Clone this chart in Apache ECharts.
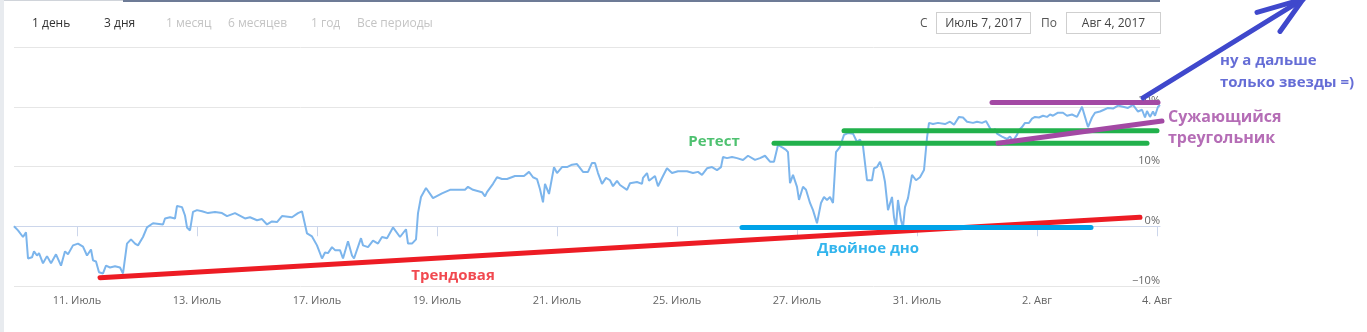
<!DOCTYPE html>
<html>
<head>
<meta charset="utf-8">
<script src="https://cdn.jsdelivr.net/npm/echarts@6/dist/echarts.min.js"></script>
<style>
  body { margin: 0; background: #fff; font-family: "Open Sans", "Noto Sans", sans-serif; }
  #wrap { position: relative; width: 1367px; height: 332px; overflow: hidden; }
  #main { position: absolute; left: 0; top: 0; width: 1367px; height: 332px; }
  .strip { position: absolute; left: 0; top: 0; width: 4px; height: 332px; background: #e8ebef; }
  .topline1 { position: absolute; left: 4px; top: 0; width: 119px; height: 1px; background: #d0d4da; }
  .topline2 { position: absolute; left: 123px; top: 0; width: 1037px; height: 2px; background: #6d7b96; }
  .tb { position: absolute; top: 14px; font-size: 12px; line-height: 18px; color: #333; white-space: nowrap; }
  .tb.off { color: #c4c4c4; }
  .box { position: absolute; top: 12px; height: 20px; border: 1px solid #cfcfcf; font-size: 12px; line-height: 20px; color: #444; text-align: center; }
</style>
</head>
<body>
<div id="wrap">
  <div id="main"></div>
  <div class="strip"></div>
  <div class="topline1"></div>
  <div class="topline2"></div>
  <div class="tb" style="left:32px">1 день</div>
  <div class="tb" style="left:104px">3 дня</div>
  <div class="tb off" style="left:166px">1 месяц</div>
  <div class="tb off" style="left:228px">6 месяцев</div>
  <div class="tb off" style="left:311px">1 год</div>
  <div class="tb off" style="left:357px">Все периоды</div>
  <div class="tb" style="left:920px;color:#555">С</div>
  <div class="box" style="left:936px;width:93px">Июль 7, 2017</div>
  <div class="tb" style="left:1041px;color:#555">По</div>
  <div class="box" style="left:1066px;width:93px">Авг 4, 2017</div>
</div>
<script>
// x = intraday step, 60 steps per trading day, 0 = open of Jul 10
const tickSteps = [60, 180, 300, 420, 540, 660, 780, 900, 1020, 1140]
const tickLabels = ['11. Июль', '13. Июль', '17. Июль', '19. Июль', '21. Июль', '25. Июль', '27. Июль', '31. Июль', '2. Авг', '4. Авг']

// change, %
const priceLine = [
  [-3, 0.0], [1, -0.7], [6, -1.8], [9, -1.0], [11, -5.4], [15, -5.2], [17, -4.2], [20, -4.9], [22, -4.5], [26, -6.2],
  [30, -5.0], [34, -6.2], [36, -6.1], [39, -4.7], [44, -6.6], [48, -4.2], [51, -4.7], [56, -3.2], [61, -2.9], [66, -3.4],
  [70, -4.9], [74, -3.9], [76, -5.7], [79, -5.9], [82, -7.7], [86, -7.9], [89, -6.6], [93, -6.9], [98, -6.7], [103, -6.9],
  [106, -7.9], [110, -2.9], [114, -2.2], [118, -2.9], [121, -3.2], [126, -1.8], [130, -0.2], [132, -0.3], [136, 0.5], [146, 0.3],
  [148, 1.3], [153, 1.5], [158, 1.3], [160, 3.4], [165, 3.2], [168, 1.8], [170, -0.2], [173, -0.7], [176, 2.4], [180, 2.7],
  [185, 2.5], [191, 2.2], [198, 2.4], [205, 2.2], [210, 1.7], [218, 2.2], [228, 1.3], [233, 1.5], [240, 1.0], [245, 1.2],
  [250, 0.3], [255, 0.8], [260, 0.7], [265, 1.7], [275, 1.5], [281, 2.2], [285, 2.5], [287, 2.2], [290, -1.2], [295, -1.7],
  [300, -3.2], [305, -5.4], [308, -4.4], [311, -4.5], [315, -3.5], [318, -4.0], [323, -4.0], [326, -5.4], [331, -2.5], [335, -4.9],
  [337, -5.4], [344, -2.0], [346, -3.2], [351, -3.5], [356, -2.4], [361, -2.9], [365, -1.8], [370, -2.0], [376, -0.2], [383, -1.8],
  [389, -0.5], [391, -2.9], [395, -2.9], [399, -2.2], [401, 2.2], [404, 4.9], [409, 6.4], [411, 6.4], [416, 4.7], [425, 5.5],
  [433, 6.1], [448, 6.1], [451, 6.6], [456, 6.1], [465, 5.7], [468, 5.0], [470, 5.7], [472, 5.5], [476, 7.1], [480, 8.2],
  [485, 7.9], [490, 7.9], [498, 8.4], [507, 8.4], [512, 9.1], [516, 8.2], [520, 7.9], [523, 6.2], [526, 4.0], [528, 7.1],
  [530, 7.1], [532, 5.4], [537, 9.9], [540, 8.9], [545, 9.9], [550, 9.9], [555, 10.3], [560, 10.4], [566, 9.1], [571, 9.1],
  [575, 10.6], [578, 10.6], [581, 8.9], [585, 7.1], [589, 8.1], [593, 7.7], [596, 6.7], [600, 7.6], [603, 6.9], [610, 6.1],
  [613, 7.2], [620, 7.4], [625, 7.1], [626, 8.1], [630, 8.9], [632, 7.6], [638, 8.4], [641, 6.7], [646, 8.4], [650, 9.7],
  [655, 8.9], [661, 9.2], [670, 9.2], [676, 8.9], [681, 9.1], [685, 8.6], [690, 9.7], [695, 9.9], [700, 9.4], [704, 9.9],
  [706, 11.6], [710, 11.4], [715, 11.6], [720, 11.4], [726, 11.1], [731, 11.8], [738, 11.1], [743, 11.4], [748, 11.8], [753, 10.8],
  [757, 10.8], [761, 13.6], [766, 13.1], [769, 12.8], [771, 12.4], [773, 7.2], [776, 8.6], [780, 6.6], [782, 4.4], [786, 6.6],
  [789, 6.1], [793, 3.9], [796, 2.7], [800, 0.5], [804, 3.9], [807, 4.9], [810, 4.4], [813, 4.9], [816, 3.9], [819, 12.4],
  [823, 13.3], [827, 15.3], [831, 15.6], [836, 15.5], [840, 14.1], [843, 14.5], [846, 13.4], [850, 7.7], [855, 7.7], [857, 9.7],
  [860, 9.9], [863, 10.8], [866, 9.1], [868, 7.4], [871, 2.7], [875, 4.9], [877, 1.5], [879, -0.2], [881, 4.4], [884, 1.0],
  [886, -0.2], [888, 3.2], [891, 4.7], [895, 8.6], [899, 7.7], [903, 8.2], [907, 9.4], [910, 14.8], [912, 17.3], [916, 17.1],
  [921, 17.3], [928, 17.1], [933, 17.5], [937, 17.0], [942, 18.3], [946, 18.2], [950, 17.5], [956, 17.3], [960, 17.5], [965, 17.3],
  [969, 17.6], [971, 17.3], [975, 15.8], [978, 16.3], [980, 15.5], [985, 15.0], [990, 14.6], [993, 15.0], [996, 14.3], [1000, 15.3],
  [1002, 16.1], [1005, 16.6], [1008, 17.3], [1012, 17.3], [1015, 18.0], [1018, 18.3], [1022, 18.2], [1026, 18.5], [1030, 18.3], [1033, 18.7],
  [1036, 18.5], [1041, 19.0], [1046, 19.0], [1050, 18.5], [1055, 18.7], [1060, 18.3], [1065, 20.0], [1068, 18.3], [1071, 16.6], [1075, 18.2],
  [1078, 19.0], [1083, 19.2], [1087, 19.5], [1091, 19.8], [1096, 19.7], [1101, 20.2], [1106, 20.0], [1111, 19.8], [1116, 20.3], [1121, 19.2],
  [1125, 19.5], [1128, 18.2], [1130, 19.3], [1133, 18.3], [1136, 19.2], [1138, 18.5], [1141, 20.0], [1143, 20.3]
]

// hand-drawn markup segments: [x1, y1, x2, y2]
const trendLine = [[83, -8.6, 1123, 1.5]]
const doubleBottom = [[725, -0.2, 1074, -0.2]]
const retest = [[757, 13.9, 1130, 13.9], [827, 16.0, 1140, 16.0]]
const triangle = [[975, 20.7, 1141, 20.7], [981, 13.9, 1145, 17.6]]
const arrow = [[1126, 21.5, 1286, 38.0], [1240, 35.8, 1286, 38.0], [1263, 32.6, 1286, 38.0]]

// [x, y, text, colour, size, lineHeight, align]
const notes = [
  [697, 14.1, 'Ретест', '#22b14c', 15, 20, 'center'],
  [851, -3.7, 'Двойное дно', '#00a2e8', 15, 20, 'center'],
  [436, -8.2, 'Трендовая', '#ed1c24', 15, 20, 'center'],
  [1151, 16.4, 'Сужающийся\nтреугольник', '#a349a4', 16, 21, 'left'],
  [1203, 25.8, 'ну а дальше\nтолько звезды =)', '#3f48cc', 15, 22, 'left']
]

function markup (segments, color) {
  return {
    type: 'custom',
    data: segments,
    silent: true,
    z: 5,
    renderItem: function (params, api) {
      const a = api.coord([api.value(0), api.value(1)])
      const b = api.coord([api.value(2), api.value(3)])
      return {
        type: 'line',
        shape: { x1: a[0], y1: a[1], x2: b[0], y2: b[1] },
        style: { stroke: color, lineWidth: 5, lineCap: 'round' }
      }
    }
  }
}

const myChart = echarts.init(document.getElementById('main'))
myChart.setOption({
  animation: false,
  grid: { left: 14, right: 207, top: 47, bottom: 46 },
  xAxis: {
    type: 'value',
    min: -3,
    max: 1143,
    splitLine: { show: false },
    axisLine: { lineStyle: { color: '#ccd6eb' } },
    axisTick: { customValues: tickSteps, length: 10, lineStyle: { color: '#ccd6eb' } },
    axisLabel: {
      customValues: tickSteps,
      color: '#666',
      fontSize: 11,
      margin: 9,
      fontFamily: 'Open Sans',
      formatter: v => tickLabels[tickSteps.indexOf(v)]
    }
  },
  yAxis: {
    type: 'value',
    position: 'right',
    min: -10,
    max: 30,
    interval: 10,
    axisLine: { show: false },
    axisTick: { show: false },
    splitLine: { lineStyle: { color: '#e6e6e6' } },
    axisLabel: {
      inside: true,
      margin: 0,
      showMaxLabel: false,
      verticalAlign: 'bottom',
      color: '#666',
      fontSize: 11,
      fontFamily: 'Open Sans',
      formatter: v => (v < 0 ? '\u221210' : v) + '%'
    }
  },
  series: [
    {
      type: 'line',
      data: priceLine,
      showSymbol: false,
      symbol: 'none',
      z: 3,
      lineStyle: { color: '#7cb5ec', width: 2 }
    },
    markup(trendLine, '#ed1c24'),
    markup(doubleBottom, '#00a2e8'),
    markup(retest, '#22b14c'),
    markup(triangle, '#a349a4'),
    markup(arrow, '#3f48cc'),
    {
      type: 'scatter',
      symbolSize: 0,
      clip: false,
      silent: true,
      z: 6,
      data: notes.map(n => ({
        value: [n[0], n[1]],
        label: {
          show: true,
          formatter: n[2],
          color: n[3],
          fontSize: n[4],
          lineHeight: n[5],
          fontWeight: 'bold',
          fontFamily: 'Open Sans',
          position: n[6] === 'left' ? 'right' : 'inside',
          distance: 0,
          align: n[6]
        }
      }))
    }
  ]
})
</script>
</body>
</html>
